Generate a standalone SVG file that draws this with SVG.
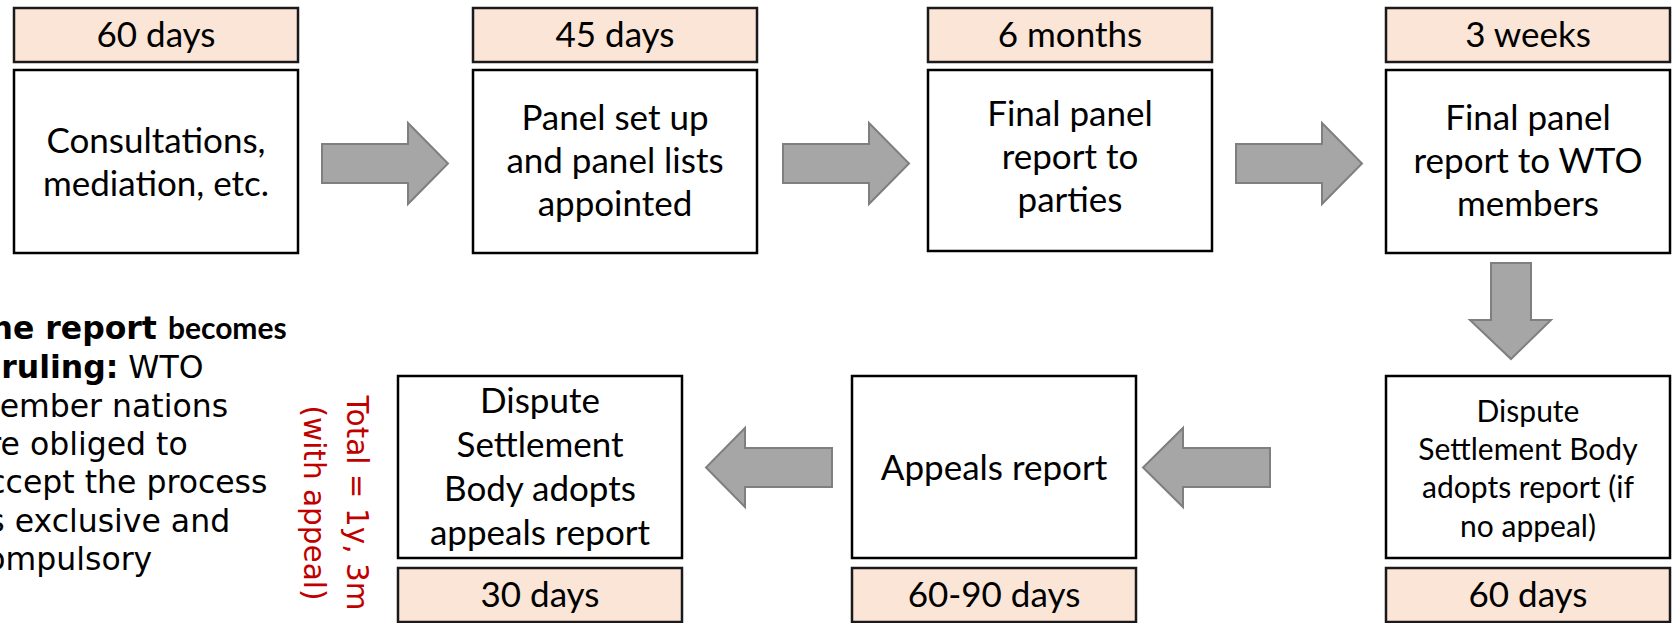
<svg xmlns="http://www.w3.org/2000/svg" width="1672" height="623" viewBox="0 0 1672 623">
<style>
.box{fill:#ffffff;stroke:#000000;stroke-width:2.5}
.lab{fill:#FBE5D6;stroke:#1a1a1a;stroke-width:2.5}
.t{font-family:Lato,"Liberation Sans",sans-serif;font-size:35px;fill:#000;text-anchor:middle}
.ts{font-family:Lato,"Liberation Sans",sans-serif;font-size:30px;fill:#000;text-anchor:middle}
.arr{fill:#A6A6A6;stroke:#7F7F7F;stroke-width:2}
.note{font-family:"DejaVu Sans",Verdana,sans-serif;font-size:31.5px;fill:#000}
.red{font-family:"DejaVu Sans",Verdana,sans-serif;font-size:29.5px;fill:#C00000;text-anchor:middle}
</style>
<rect width="1672" height="623" fill="#ffffff"/>

<g id="connectors">
<polygon class="arr" points="322,144 408,144 408,123 448,163.5 408,204 408,183 322,183"/>
<polygon class="arr" points="783,144 869,144 869,123 909,163.5 869,204 869,183 783,183"/>
<polygon class="arr" points="1236,144 1322,144 1322,123 1362,163.5 1322,204 1322,183 1236,183"/>
<polygon class="arr" points="1491,263 1531,263 1531,320 1551,320 1511,359 1470,320 1491,320"/>
<polygon class="arr" points="1270,448 1270,487 1183,487 1183,507 1143,467.5 1183,428 1183,448"/>
<polygon class="arr" points="832,448 832,487 745,487 745,507 706,467.5 745,428 745,448"/>
</g>

<g id="n1">
<rect class="lab" x="14" y="8" width="284" height="54"/>
<text class="t" x="156" y="47">60 days</text>
<rect class="box" x="14" y="70" width="284" height="183"/>
<text class="t" x="156" y="153">Consultations,</text>
<text class="t" x="156" y="196">mediation, etc.</text>
</g>

<g id="n2">
<rect class="lab" x="473" y="8" width="284" height="54"/>
<text class="t" x="615" y="47">45 days</text>
<rect class="box" x="473" y="70" width="284" height="183"/>
<text class="t" x="615" y="130">Panel set up</text>
<text class="t" x="615" y="173">and panel lists</text>
<text class="t" x="615" y="216">appointed</text>
</g>

<g id="n3">
<rect class="lab" x="928" y="8" width="284" height="54"/>
<text class="t" x="1070" y="47">6 months</text>
<rect class="box" x="928" y="70" width="284" height="181"/>
<text class="t" x="1070" y="126">Final panel</text>
<text class="t" x="1070" y="169">report to</text>
<text class="t" x="1070" y="212">parties</text>
</g>

<g id="n4">
<rect class="lab" x="1386" y="8" width="284" height="54"/>
<text class="t" x="1528" y="47">3 weeks</text>
<rect class="box" x="1386" y="70" width="284" height="183"/>
<text class="t" x="1528" y="130">Final panel</text>
<text class="t" x="1528" y="173">report to WTO</text>
<text class="t" x="1528" y="216">members</text>
</g>

<g id="n5">
<rect class="box" x="1386" y="376" width="284" height="182"/>
<text class="ts" x="1528" y="422">Dispute</text>
<text class="ts" x="1528" y="460">Settlement Body</text>
<text class="ts" x="1528" y="498">adopts report (if</text>
<text class="ts" x="1528" y="537">no appeal)</text>
<rect class="lab" x="1386" y="568" width="284" height="54"/>
<text class="t" x="1528" y="607">60 days</text>
</g>

<g id="n6">
<rect class="box" x="852" y="376" width="284" height="182"/>
<text class="t" x="994" y="480">Appeals report</text>
<rect class="lab" x="852" y="568" width="284" height="54"/>
<text class="t" x="994" y="607">60-90 days</text>
</g>

<g id="n7">
<rect class="box" x="398" y="376" width="284" height="182"/>
<text class="t" x="540" y="413">Dispute</text>
<text class="t" x="540" y="457">Settlement</text>
<text class="t" x="540" y="501">Body adopts</text>
<text class="t" x="540" y="545">appeals report</text>
<rect class="lab" x="398" y="568" width="284" height="54"/>
<text class="t" x="540" y="607">30 days</text>
</g>

<g id="total">
<text class="red" transform="translate(347,503) rotate(90)">Total = 1y, 3m</text>
<text class="red" transform="translate(304,503) rotate(90)">(with appeal)</text>
</g>

<g id="note">
<text class="note" x="-31" y="339"><tspan font-weight="bold">The report </tspan><tspan font-family="Lato, 'Liberation Sans', sans-serif" font-weight="bold" font-size="30px">becomes</tspan></text>
<text class="note" x="-31" y="378"><tspan font-weight="bold">a ruling:</tspan> WTO</text>
<text class="note" x="-31" y="417">member nations</text>
<text class="note" x="-31" y="455">are obliged to</text>
<text class="note" x="-31" y="493">accept the process</text>
<text class="note" x="-31" y="532">as exclusive and</text>
<text class="note" x="-31" y="570">compulsory</text>
</g>
</svg>
